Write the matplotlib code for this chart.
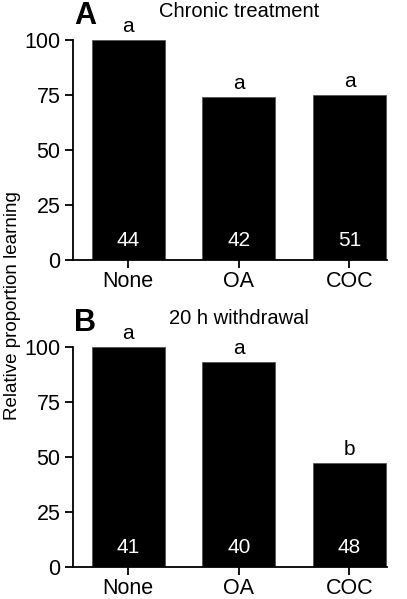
import matplotlib
matplotlib.use("Agg")
import matplotlib.pyplot as plt

plt.rcParams['font.family'] = ['Liberation Sans', 'DejaVu Sans']

# DATA
groups = ['None', 'OA', 'COC']
chronic = [100, 74, 75]
withdrawal = [100, 93, 47]
n_chronic = [44, 42, 51]
n_withdrawal = [41, 40, 48]
sig_chronic = ['a', 'a', 'a']
sig_withdrawal = ['a', 'a', 'b']
yticks = [0, 25, 50, 75, 100]

fig = plt.figure(figsize=(4.07, 5.99), dpi=100)
ax_a = fig.add_axes([0.179, 0.566, 0.772, 0.367])
ax_b = fig.add_axes([0.179, 0.054, 0.772, 0.367])


def draw_panel(ax, values, counts, letters, title, label):
    x = range(len(groups))
    ax.bar(x, values, width=0.66, color='black', edgecolor='#555555', linewidth=0.6)
    for i in x:
        ax.text(i, 6.4, str(counts[i]), color='white', ha='center', va='baseline', fontsize=15)
        ax.text(i, values[i] + 3.6, letters[i], color='black', ha='center', va='baseline', fontsize=15)
    ax.set_xlim(-0.5, 2.34)
    ax.set_ylim(0, 100)
    ax.set_yticks(yticks)
    ax.set_xticks(list(x))
    ax.set_xticklabels(groups)
    ax.spines['top'].set_visible(False)
    ax.spines['right'].set_visible(False)
    ax.spines['left'].set_linewidth(1.3)
    ax.spines['bottom'].set_linewidth(1.3)
    ax.tick_params(axis='both', direction='out', length=6, width=1.3, labelsize=15.5)
    ax.tick_params(axis='x', pad=2)
    ax.tick_params(axis='y', pad=3)
    ax.text(0.53, 1.13, title, transform=ax.transAxes, ha='center', va='center', fontsize=14.5)
    ax.text(0.005, 1.11, label, transform=ax.transAxes, ha='left', va='center',
            fontsize=22, fontweight='bold')


draw_panel(ax_a, chronic, n_chronic, sig_chronic, 'Chronic treatment', 'A')
draw_panel(ax_b, withdrawal, n_withdrawal, sig_withdrawal, '20 h withdrawal', 'B')

fig.text(0.03, 0.49, 'Relative proportion learning', rotation=90, ha='center', va='center',
         fontsize=13.5)

fig.savefig('out.png', dpi=100)
